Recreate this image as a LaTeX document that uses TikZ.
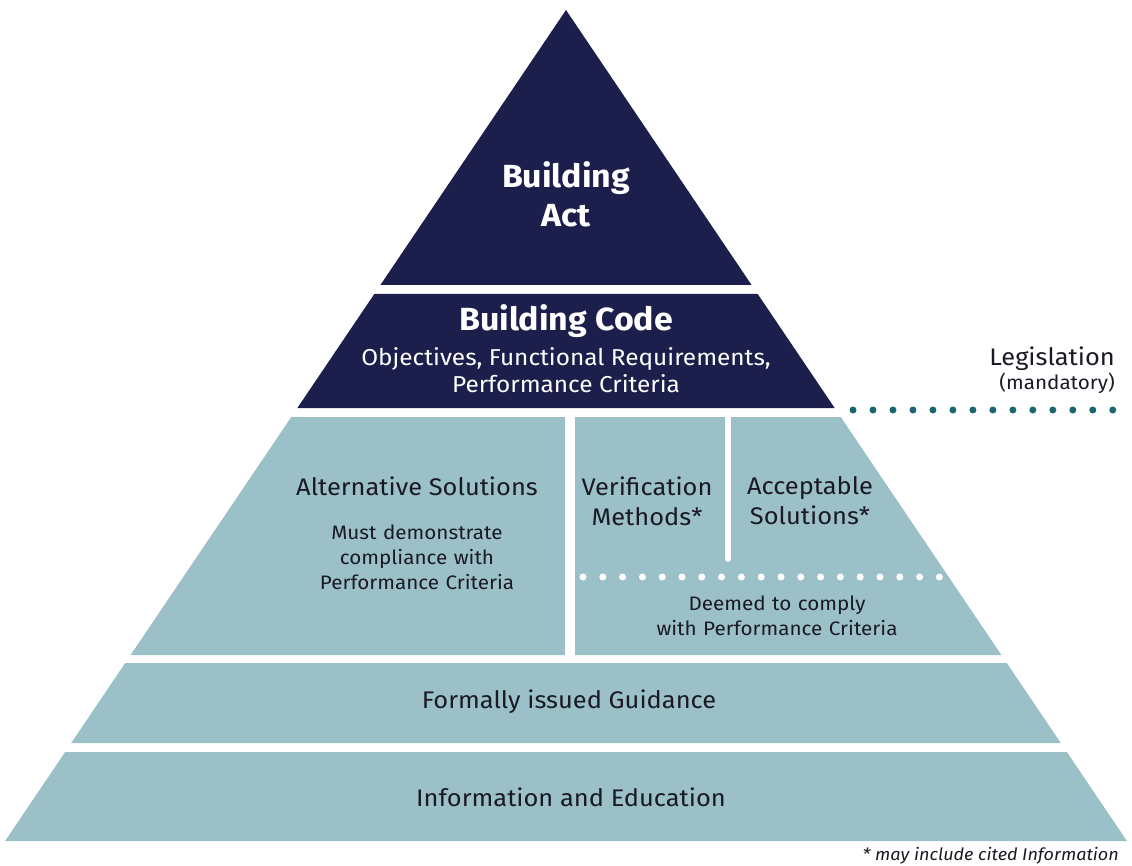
\documentclass[tikz,border=0pt]{standalone}
\usepackage{fontspec}
\setmainfont{Fira Sans}[FakeStretch=1.06]
\usetikzlibrary{positioning}

\definecolor{navy}{HTML}{1C1F4B}
\definecolor{paleteal}{HTML}{9BC0C8}
\definecolor{dotteal}{HTML}{1B6670}
\definecolor{ink}{HTML}{1A1A24}

% one slice of the pyramid: top y, bottom y, colour
\newcommand{\tier}[3]{%
  \pgfmathsetmacro\wtop{(#1-10)*0.675}
  \pgfmathsetmacro\wbot{(#2-10)*0.675}
  \fill[#3] (566-\wtop,#1) -- (566+\wtop,#1) -- (566+\wbot,#2) -- (566-\wbot,#2) -- cycle;}

\begin{document}
\begin{tikzpicture}[x=1pt,y=-1pt,
    every node/.style={align=center, inner sep=0pt},
    head/.style={font=\fontsize{32}{39}\selectfont\bfseries, text=white},
    sub/.style={font=\fontsize{23}{27}\selectfont, text=white},
    lbl/.style={font=\fontsize{24}{30}\selectfont, text=ink},
    small/.style={font=\fontsize{19.5}{25}\selectfont, text=ink},
    dots/.style={line width=7pt, line cap=round, dash pattern=on 0pt off #1}]
  \useasboundingbox (0,0) rectangle (1132,866);

  % pyramid
  \fill[navy] (566,10) -- (751.6,285) -- (380.4,285) -- cycle;
  \tier{294}{408}{navy}
  \tier{417}{655}{paleteal}
  \tier{663}{743}{paleteal}
  \tier{752}{841}{paleteal}
  \fill[white] (565,412) rectangle (575,660);
  \draw[white, line width=6pt, line cap=round] (728,414) -- (728,559);

  % dotted lines
  \coordinate (dl) at (583,577);  \coordinate (dr) at (940,577);
  \coordinate (ll) at (853,410);  \coordinate (lr) at (1113,410);
  \draw[white, dots=19.8pt] (dl) -- (dr);
  \draw[dotteal, dots=19.98pt] (ll) -- (lr);

  % texts
  \node (act) [head] at (566,194) {Building\\Act};
  \node (code) [head] at (566,321) {Building Code};
  \node (obj) [sub] at (566,370.5) {Objectives, Functional Requirements,\\Performance Criteria};
  \node (legis) [lbl, anchor=east] at (1115,359) {Legislation};
  \node (mand) [small, anchor=east] at (1115,383) {(mandatory)};

  \node (alt) [lbl] at (417,486) {Alternative Solutions};
  \node (must) [small, text width=240pt] at (417,557.5) {Must demonstrate\\compliance with\\Performance Criteria};
  \node (verif) [lbl] at (647,501) {Verification\\Methods*};
  \node (accept) [lbl] at (810,501) {Acceptable\\Solutions*};
  \node (deemed) [small, text width=280pt] at (777,616) {Deemed to comply\\with Performance Criteria};

  \node (guide) [lbl] at (569,702) {Formally issued Guidance};
  \node (info) [lbl] at (571,797) {Information and Education};
  \node (note) [small, font=\fontsize{17}{20}\selectfont\itshape, anchor=east] at (1119,856) {* may include cited Information};
\end{tikzpicture}
\end{document}
